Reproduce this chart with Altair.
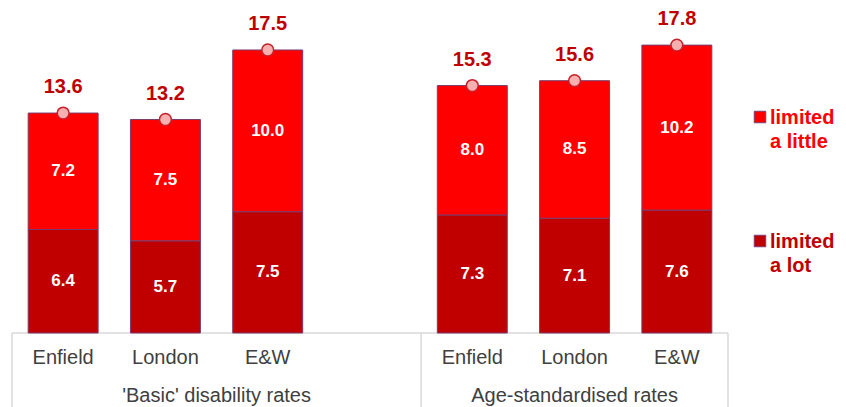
import altair as alt
import pandas as pd

groups = ["'Basic' disability rates", "Age-standardised rates"]
areas = ["Enfield", "London", "E&W"]
levels = ["a little", "a lot"]
limited_lot_basic = [6.4, 5.7, 7.5]
limited_little_basic = [7.2, 7.5, 10.0]
limited_lot_age = [7.3, 7.1, 7.6]
limited_little_age = [8.0, 8.5, 10.2]
totals_basic = [13.6, 13.2, 17.5]
totals_age = [15.3, 15.6, 17.8]

FONT = "Liberation Sans"
DARK = "#C00000"
BRIGHT = "#FF0000"
EDGE = "#7A3C6E"
GRID = "#D9D9D9"
HALF = 0.342

lots = [limited_lot_basic, limited_lot_age]
littles = [limited_little_basic, limited_little_age]
totals = [totals_basic, totals_age]

seg_rows, top_rows, cat_rows = [], [], []
for gi, g in enumerate(groups):
    for ai, a in enumerate(areas):
        c = gi * 4 + ai + 0.5
        lot = lots[gi][ai]
        lit = littles[gi][ai]
        seg_rows.append(dict(cx=c, x0=c - HALF, x1=c + HALF, y0=0, y1=lot, level="a lot", val=lot))
        seg_rows.append(dict(cx=c, x0=c - HALF, x1=c + HALF, y0=lot, y1=lot + lit, level="a little", val=lit))
        top_rows.append(dict(cx=c, total=totals[gi][ai]))
        cat_rows.append(dict(cx=c, area=a))
seg = pd.DataFrame(seg_rows)
seg["mid"] = (seg["y0"] + seg["y1"]) / 2
tops = pd.DataFrame(top_rows)
cats = pd.DataFrame(cat_rows)
n_slots = len(groups) * 4 - 1
grp = pd.DataFrame(dict(group=groups, start=[0, 4], end=[4, n_slots]))
grp["center"] = (grp["start"] + grp["end"]) / 2
bounds = pd.DataFrame(dict(b=[0, 4, n_slots]))
base = pd.DataFrame(dict(a=[0], b=[n_slots], y=[0]))

# legend entries (layout in pixels of the plot area)
leg = pd.DataFrame(dict(level=levels, label=[["limited", lv] for lv in levels]))
leg["i"] = range(len(levels))

xs = alt.Scale(domain=[0, n_slots], nice=False, zero=False)
ys = alt.Scale(domain=[0, 19.91], nice=False)
cs = alt.Scale(domain=levels, range=[BRIGHT, DARK])

baseline = alt.Chart(base).mark_rule(color=GRID, strokeWidth=1.5).encode(
    x=alt.X("a:Q", scale=xs, axis=None), x2="b:Q", y=alt.Y("y:Q", scale=ys, axis=None))
vlines = alt.Chart(bounds).mark_rule(color=GRID, strokeWidth=1.5).encode(
    x=alt.X("b:Q", scale=xs, axis=None), y=alt.value(322), y2=alt.value(400))

bars = alt.Chart(seg).mark_bar(stroke=EDGE, strokeWidth=1).encode(
    x=alt.X("x0:Q", scale=xs, axis=None), x2="x1:Q",
    y=alt.Y("y0:Q", scale=ys, axis=None), y2="y1:Q",
    color=alt.Color("level:N", scale=cs, legend=None))

inner = alt.Chart(seg).mark_text(font=FONT, fontSize=17, fontWeight="bold", color="white", baseline="middle").encode(
    x=alt.X("cx:Q", scale=xs, axis=None), y=alt.Y("mid:Q", scale=ys, axis=None), text=alt.Text("val:Q", format=".1f"))

dots = alt.Chart(tops).mark_point(shape="circle", filled=True, fill="#F7B0B0", stroke="#C8202A",
                                  strokeWidth=1.5, size=140, opacity=1).encode(
    x=alt.X("cx:Q", scale=xs, axis=None), y=alt.Y("total:Q", scale=ys, axis=None))

totals_txt = alt.Chart(tops).mark_text(font=FONT, fontSize=20, fontWeight="bold", color=DARK,
                                       baseline="middle", dy=-26).encode(
    x=alt.X("cx:Q", scale=xs, axis=None), y=alt.Y("total:Q", scale=ys, axis=None), text=alt.Text("total:Q", format=".1f"))

cat_txt = alt.Chart(cats).mark_text(font=FONT, fontSize=20, color="#404040", baseline="middle").encode(
    x=alt.X("cx:Q", scale=xs, axis=None), y=alt.value(347), text="area:N")

grp_txt = alt.Chart(grp).mark_text(font=FONT, fontSize=20, color="#404040", baseline="middle").encode(
    x=alt.X("center:Q", scale=xs, axis=None), y=alt.value(385), text="group:N")

leg_sq = alt.Chart(leg).transform_calculate(py="106 + datum.i * 124").mark_square(
    size=132, stroke=EDGE, strokeWidth=1, opacity=1).encode(
    x=alt.value(748), y=alt.Y("py:Q", scale=None, axis=None), fill=alt.Fill("level:N", scale=cs, legend=None))

leg_txt = alt.Chart(leg).transform_calculate(py="113 + datum.i * 124").mark_text(
    font=FONT, fontSize=20, fontWeight="bold", align="left", baseline="alphabetic", lineHeight=24).encode(
    x=alt.value(758), y=alt.Y("py:Q", scale=None, axis=None), text="label:N",
    color=alt.Color("level:N", scale=cs, legend=None))

chart = alt.layer(baseline, vlines, bars, inner, dots, totals_txt, cat_txt, grp_txt, leg_sq, leg_txt).properties(
    width=716, height=322,
    padding={"left": 4, "top": 3, "right": 110, "bottom": 75},
    autosize=alt.AutoSizeParams(type="none"),
).configure_view(stroke=None)

chart.save("out.html", embed_options={"renderer": "svg", "actions": False})
